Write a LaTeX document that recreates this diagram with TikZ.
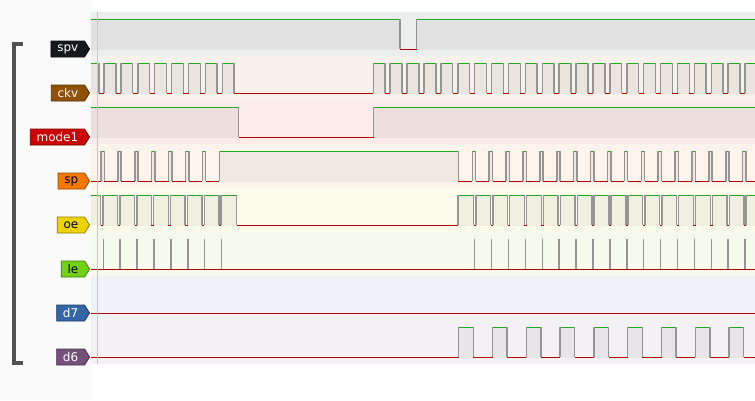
\documentclass[tikz,border=0pt]{standalone}
\usepackage{fontspec}
\setmainfont{DejaVu Sans}
\usepackage{tikz}
\usetikzlibrary{shapes.symbols}

\definecolor{colspv}{HTML}{16191A}
\definecolor{colckv}{HTML}{8F5202}
\definecolor{colmode}{HTML}{CC0000}
\definecolor{colsp}{HTML}{F57900}
\definecolor{coloe}{HTML}{EDD400}
\definecolor{colle}{HTML}{73D216}
\definecolor{coldseven}{HTML}{3465A4}
\definecolor{coldsix}{HTML}{75507B}
\definecolor{hicol}{HTML}{1DAA1D}
\definecolor{locol}{HTML}{B40000}
\definecolor{edgecol}{HTML}{959595}
\definecolor{panelcol}{HTML}{FAFAFA}
\newcommand{\pulse}[4]{%
  \fill[#4!8!white!95!black] (#2,19+44*#1) rectangle (#3,49.6+44*#1);
  \draw[hiline] (#2,19+44*#1) -- (#3,19+44*#1);
  \draw[edgeline] (#2,19+44*#1) -- (#2,49+44*#1) (#3,19+44*#1) -- (#3,49+44*#1);
}

\begin{document}
\begin{tikzpicture}[x=1pt,y=-1pt,
  tag/.style={signal, signal to=east, signal pointer angle=116, minimum height=16,
    inner xsep=6.3, inner ysep=3.2, line width=0.8, anchor=east,
    font=\fontsize{12}{12}\selectfont},
  hiline/.style={line width=1, color=hicol},
  loline/.style={line width=1, color=locol},
  edgeline/.style={line width=1.5, color=edgecol}]
% panels
\fill[panelcol] (0,0) rectangle (91,400);
\fill[white] (91,0) rectangle (755,400);
\useasboundingbox (0,0) rectangle (755,400);
% row backgrounds
\foreach \c [count=\r from 0] in {colspv,colckv,colmode,colsp,coloe,colle,coldseven,coldsix}
  \fill[\c!8!white] (91,12+44*\r) rectangle (755,56+44*\r);
% low lines
\foreach \r in {0,...,7}
  \draw[loline] (91,49+44*\r) -- (755,49+44*\r);

\begin{scope}
\clip (91,12) rectangle (755,364);
% spv
\pulse{0}{80}{400}{colspv}
\pulse{0}{416.7}{770}{colspv}
% ckv
\foreach \k in {0,...,8}{\pulse{1}{87.1+16.9*\k}{98.9+16.9*\k}{colckv}}
\foreach \k in {0,...,22}{\pulse{1}{373.3+16.9*\k}{385.1+16.9*\k}{colckv}}
% mode1
\pulse{2}{80}{238.7}{colmode}
\pulse{2}{373.5}{770}{colmode}
% sp
\foreach \k in {0,...,6}{\pulse{3}{101+16.9*\k}{104.3+16.9*\k}{colsp}}
\pulse{3}{219.3}{458.3}{colsp}
\foreach \k in {0,...,16}{\pulse{3}{472.3+16.9*\k}{475.6+16.9*\k}{colsp}}
% oe
\pulse{4}{80}{100.7}{coloe}
\foreach \k in {0,...,6}{\pulse{4}{103+16.9*\k}{117.6+16.9*\k}{coloe}}
\pulse{4}{221.2}{236.7}{coloe}
\pulse{4}{458}{473.7}{coloe}
\foreach \k in {0,...,15}{\pulse{4}{475.9+16.9*\k}{490.6+16.9*\k}{coloe}}
\pulse{4}{746.1}{770}{coloe}
% le spikes
\foreach \k in {0,...,7}{\draw[edgeline] (103.3+16.9*\k,239) -- (103.3+16.9*\k,269);}
\foreach \k in {0,...,16}{\draw[edgeline] (474.7+16.9*\k,239) -- (474.7+16.9*\k,269);}
% d6
\foreach \k in {0,...,8}{\pulse{7}{458.7+33.8*\k}{473.3+33.8*\k}{coldsix}}
\end{scope}

% cursor
\draw[line width=1, color=black!22] (97.3,12) -- (97.3,364);

% channel tags
\node[tag, fill=colspv, draw=colspv!60!black, text=white] (spvtag) at (90,49) {spv};
\node[tag, fill=colckv, draw=colckv!60!black, text=white] (ckvtag) at (90,93) {ckv};
\node[tag, fill=colmode, draw=colmode!60!black, text=white] (modetag) at (90,137) {mode1};
\node[tag, fill=colsp, draw=colsp!60!black, text=black] (sptag) at (90,181) {sp};
\node[tag, fill=coloe, draw=coloe!60!black, text=black] (oetag) at (90,225) {oe};
\node[tag, fill=colle, draw=colle!60!black, text=black] (letag) at (90,269) {le};
\node[tag, fill=coldseven, draw=coldseven!60!black, text=white] (dseventag) at (90,313) {d7};
\node[tag, fill=coldsix, draw=coldsix!60!black, text=white] (dsixtag) at (90,357) {d6};

% group bracket
\draw[line width=4, color=black!68] (23,43.5) -- (13.7,43.5) -- (13.7,362.5) -- (23,362.5);
\end{tikzpicture}
\end{document}
